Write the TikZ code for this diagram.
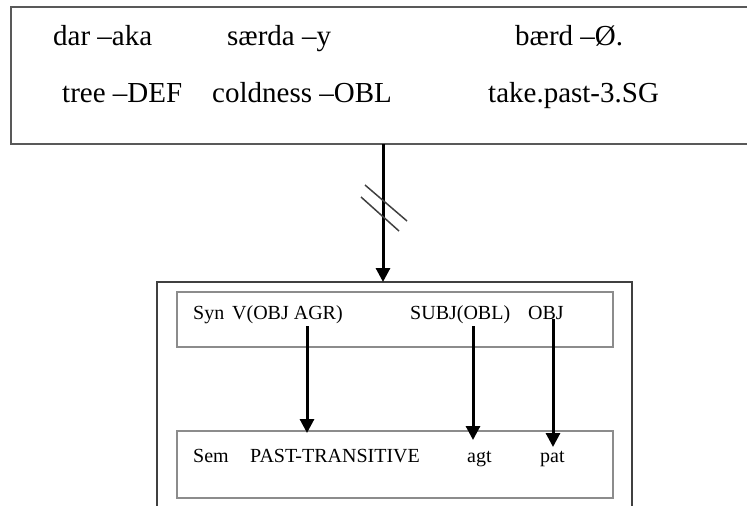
\documentclass[tikz,border=0pt]{standalone}
\usepackage{fontspec}
\setmainfont{Liberation Serif}
\usetikzlibrary{arrows.meta}

\tikzset{
  gloss/.style={anchor=base west, inner sep=0pt, font=\fontsize{29}{34}\selectfont},
  lbl/.style={anchor=base west, inner sep=0pt, font=\fontsize{20}{24}\selectfont},
  frame/.style={draw=black!65, line width=2pt},
  outerframe/.style={draw=black!75, line width=2pt},
  innerframe/.style={draw=black!45, line width=1.5pt},
  arr/.style={line width=3pt, -{Triangle[width=14pt,length=14pt]}},
  hatch/.style={draw=black!75, line width=1.5pt}
}

\begin{document}
\begin{tikzpicture}[x=1pt, y=-1pt]
\useasboundingbox (0,0) rectangle (747,506);
\clip (0,0) rectangle (747,506);

% sentence box with the glossed words
\draw[frame] (11,7) rectangle (770,144);
\coordinate (topbottom) at (383,144);
\node[gloss] (w1) at (53,45) {dar –aka};
\node[gloss] (w2) at (227,45) {særda –y};
\node[gloss] (w3) at (515,45) {bærd –Ø.};
\node[gloss] (g1) at (62,102) {tree –DEF};
\node[gloss] (g2) at (212,102) {coldness –OBL};
\node[gloss] (g3) at (488,102) {take.past-3.SG};

% construction box
\draw[outerframe] (157,282) rectangle (632,530);
\coordinate (outertop) at (383,282);
\draw[innerframe] (177,292) rectangle (613,347);
\draw[innerframe] (177,431) rectangle (613,498);

% syntax row
\node[lbl] (syn) at (193,319) {Syn};
\node[lbl] (vobj) at (232,319) {V(OBJ AGR)};
\node[lbl] (subj) at (410,319) {SUBJ(OBL)};
\node[lbl] (obj) at (528,319) {OBJ};

% semantics row
\node[lbl] (sem) at (193,462) {Sem};
\node[lbl] (past) at (250,462) {PAST-TRANSITIVE};
\node[lbl] (agt) at (467,462) {agt};
\node[lbl] (pat) at (540,462) {pat};

% main link with the double hatch
\draw[arr] (topbottom) -- (outertop);
\draw[hatch] (365,185) -- (407,221);
\draw[hatch] (361,197) -- (399,231);

% linking arrows from syntax to semantics
\coordinate (s1) at (307,326); \coordinate (e1) at (307,433);
\coordinate (s2) at (473,326); \coordinate (e2) at (473,440);
\coordinate (s3) at (553,319); \coordinate (e3) at (553,447);
\draw[arr] (s1) -- (e1);
\draw[arr] (s2) -- (e2);
\draw[arr] (s3) -- (e3);
\end{tikzpicture}
\end{document}
